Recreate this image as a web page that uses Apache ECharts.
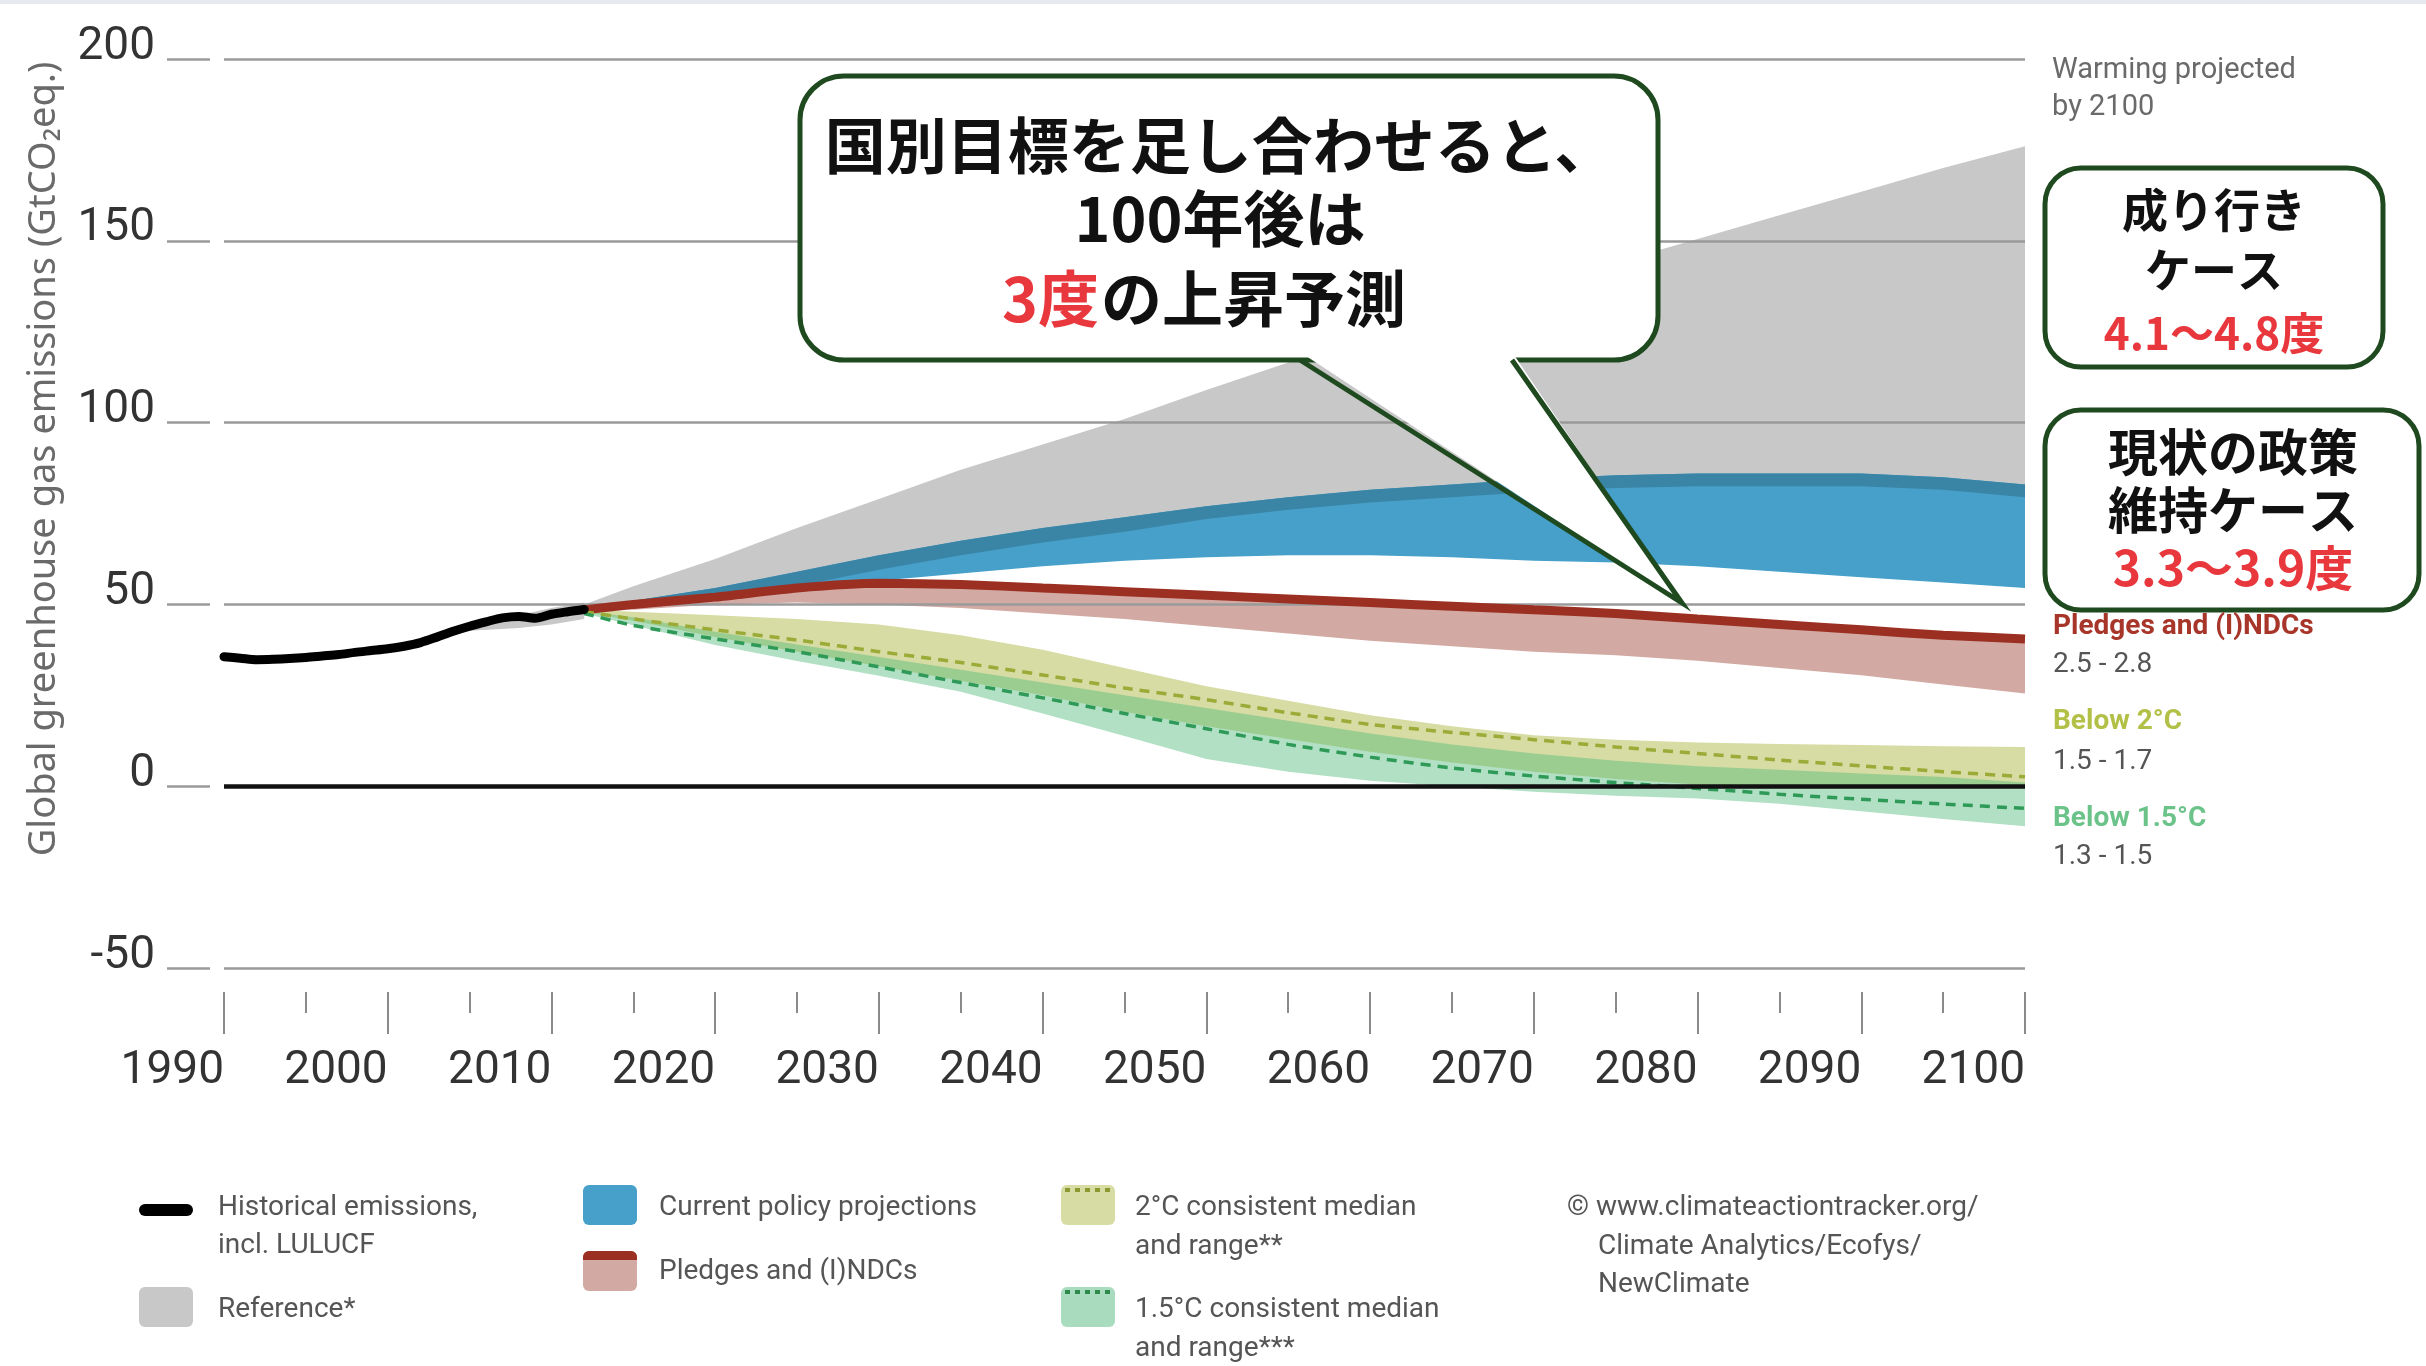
<!DOCTYPE html>
<html>
<head>
<meta charset="utf-8">
<title>Global greenhouse gas emissions</title>
<script src="https://cdn.jsdelivr.net/npm/echarts@6/dist/echarts.min.js"></script>
<style>
  html, body { margin: 0; padding: 0; background: #fff; }
  #chart { width: 2426px; height: 1366px; }
</style>
</head>
<body>
<div id="chart"></div>
<script>
// historical emissions, GtCO2eq
const histYears = [1990, 1991, 1992, 1993, 1994, 1995, 1996, 1997, 1998, 1999, 2000, 2001, 2002, 2003, 2004, 2005, 2006, 2007, 2008, 2009, 2010, 2011, 2012];
const histValues = [35.6, 35.2, 34.8, 34.9, 35.1, 35.4, 35.8, 36.2, 36.8, 37.3, 37.8, 38.5, 39.5, 41.0, 42.6, 44.0, 45.2, 46.3, 46.7, 46.2, 47.3, 48.0, 48.6];

// grey reference band close to the historical line
const refEarlyYears = [2004, 2008, 2010, 2012];
const refEarlyLow = [42.5, 43.5, 44.5, 46.0];
const refEarlyHigh = [43.0, 47.0, 49.0, 50.5];

// projections
const projYears = [2012, 2015, 2020, 2025, 2030, 2035, 2040, 2045, 2050, 2055, 2060, 2065, 2070, 2075, 2080, 2085, 2090, 2095, 2100];

const refLow = [48.5, 49.5, 51.5, 55.0, 59.5, 63.5, 67.0, 70.0, 73.5, 76.0, 78.0, 79.5, 81.0, 82.0, 82.5, 82.5, 82.5, 81.5, 79.5];
const refHigh = [50.0, 55.0, 62.5, 71.0, 79.0, 87.0, 94.0, 101.0, 109.0, 116.5, 124.0, 131.0, 138.0, 144.0, 150.5, 157.0, 163.5, 170.0, 176.0];

const policyLow = [48.5, 49.5, 51.5, 54.0, 56.5, 58.5, 60.5, 62.0, 63.0, 63.5, 63.5, 63.0, 62.0, 61.5, 60.5, 59.0, 57.5, 56.0, 54.5];
const policyHigh = [49.0, 51.0, 54.5, 59.0, 63.5, 67.5, 71.0, 74.0, 77.0, 79.5, 81.5, 83.0, 84.5, 85.5, 86.0, 86.0, 86.0, 85.0, 83.0];

const pledgeLow = [48.0, 48.5, 50.0, 50.5, 50.0, 49.0, 47.5, 46.0, 44.0, 42.0, 40.0, 38.5, 37.0, 36.0, 34.5, 32.5, 30.5, 28.0, 25.5];
const pledgeMedian = [48.5, 50.0, 52.0, 54.5, 55.8, 55.5, 54.5, 53.5, 52.5, 51.5, 50.5, 49.5, 48.5, 47.5, 46.0, 44.5, 43.0, 41.5, 40.5];

const below2Low = [48.0, 45.5, 41.0, 37.0, 33.0, 29.0, 25.0, 20.5, 16.5, 13.0, 9.5, 6.5, 4.0, 2.0, 0.5, 0.0, -0.3, -0.5, -0.5];
const below2High = [48.5, 48.0, 47.0, 46.0, 44.5, 41.5, 37.5, 32.5, 27.5, 23.5, 19.5, 16.5, 14.0, 12.8, 12.0, 11.6, 11.3, 11.0, 10.8];
const below2Median = [48.0, 46.0, 43.0, 40.2, 37.0, 34.0, 30.6, 27.0, 23.8, 20.2, 17.0, 14.8, 12.8, 10.8, 9.0, 7.2, 5.6, 4.0, 2.6];

const below15Low = [47.5, 44.3, 38.8, 34.4, 30.4, 26.0, 20.0, 13.8, 7.5, 4.0, 1.5, 0.0, -1.5, -2.6, -3.4, -4.8, -6.9, -9.0, -11.0];
const below15High = [48.2, 46.5, 42.5, 39.0, 35.5, 32.0, 28.5, 25.0, 21.5, 18.0, 14.5, 11.5, 9.0, 7.0, 5.5, 4.5, 3.5, 2.5, 1.0];
const below15Median = [47.5, 44.2, 40.5, 37.0, 32.8, 28.5, 24.3, 20.0, 15.8, 11.5, 8.0, 5.0, 2.8, 1.0, -0.6, -2.2, -3.6, -4.9, -6.1];

const yTicks = [-50, 0, 50, 100, 150, 200];

function pairs(xs, ys) {
  return xs.map((x, i) => [x, ys[i]]);
}

// filled range between low and high, drawn as one polygon through the axes
function band(name, xs, low, high, color) {
  return {
    name: name, type: 'custom', silent: true,
    data: xs.map((x, i) => [x, low[i], high[i]]),
    encode: { x: 0, y: [1, 2] },
    renderItem: function (params, api) {
      if (params.dataIndex !== 0) return null;
      const top = xs.map((x, i) => api.coord([x, high[i]]));
      const bottom = xs.map((x, i) => api.coord([x, low[i]])).reverse();
      return {
        type: 'polygon',
        shape: { points: top.concat(bottom) },
        style: { fill: color }
      };
    }
  };
}

const txtFont = 'Roboto';
const jpFont = '"Noto Sans CJK JP"';
const boxGreen = '#1f4a1f';
const jpRed = '#e8383d';

function text(x, y, str, font, fill, align) {
  return {
    type: 'text', x: x, y: y, z: 100, silent: true,
    style: { text: str, font: font, fill: fill, textAlign: align || 'left', textVerticalAlign: 'middle' }
  };
}
function rect(x, y, w, h, r, fill, stroke, lw) {
  return {
    type: 'rect', z: 100, silent: true,
    shape: { x: x, y: y, width: w, height: h, r: r },
    style: { fill: fill, stroke: stroke || null, lineWidth: lw || 0 }
  };
}

const chart = echarts.init(document.getElementById('chart'));

const series = [
  band('refEarly', refEarlyYears, refEarlyLow, refEarlyHigh, '#c8c8c8'),
  band('Reference*', projYears, refLow, refHigh, '#c8c8c8'),
  band('Current policy projections', projYears, policyLow, policyHigh, '#46a0c9'),
  band('overlap', projYears, refLow, policyHigh, '#3a84a6'),
  band('Pledges and (I)NDCs', projYears, pledgeLow, pledgeMedian, '#d2aaa3'),
  band('2°C range', projYears, below2Low, below2High, '#d6dca3'),
  band('1.5°C range', projYears, below15Low, below15High, 'rgba(84,186,124,0.45)'),
  {
    name: 'Pledges median', type: 'line', data: pairs(projYears, pledgeMedian),
    symbol: 'none', smooth: 0.2, silent: true,
    lineStyle: { color: '#9b2f22', width: 9 }
  },
  {
    name: '2°C median', type: 'line', data: pairs(projYears, below2Median),
    symbol: 'none', smooth: 0.2, silent: true,
    lineStyle: { color: '#9aab38', width: 3.5, type: [10, 7] }
  },
  {
    name: '1.5°C median', type: 'line', data: pairs(projYears, below15Median),
    symbol: 'none', smooth: 0.2, silent: true,
    lineStyle: { color: '#2f9a58', width: 3.5, type: [10, 7] }
  },
  {
    name: 'Historical emissions', type: 'line', data: pairs(histYears, histValues),
    symbol: 'none', smooth: 0.3, silent: true, z: 4,
    lineStyle: { color: '#000', width: 9, cap: 'round' },
    markLine: {
      silent: true, symbol: 'none', label: { show: false },
      lineStyle: { color: '#111', width: 4.5, type: 'solid' },
      data: [{ yAxis: 0 }]
    }
  }
];

const graphics = [
  // faint border at the top
  rect(0, 0, 2426, 4, 0, '#e6eaef'),

  // y axis title
  {
    type: 'text', x: 44, y: 459, rotation: Math.PI / 2, z: 100, silent: true,
    style: {
      text: 'Global greenhouse gas emissions (GtCO₂eq.)',
      font: '38px "Noto Sans"', fill: '#6a6a6a', textAlign: 'center', textVerticalAlign: 'middle'
    }
  },

  // speech bubble
  rect(800, 76, 858, 284, 44, '#fff', boxGreen, 5),
  {
    type: 'polygon', z: 101, silent: true,
    shape: { points: [[1300, 352], [1682, 603], [1512, 352]] },
    style: { fill: '#fff' }
  },
  {
    type: 'polyline', z: 101, silent: true,
    shape: { points: [[1300, 360], [1682, 603], [1512, 360]] },
    style: { stroke: boxGreen, lineWidth: 5, fill: null, lineJoin: 'miter' }
  },
  text(1220, 146, '国別目標を足し合わせると、', 'bold 61px ' + jpFont, '#111', 'center'),
  text(1220, 219, '100年後は', 'bold 61px ' + jpFont, '#111', 'center'),
  text(1099, 299, '3度', 'bold 61px ' + jpFont, jpRed, 'right'),
  text(1101, 299, 'の上昇予測', 'bold 61px ' + jpFont, '#111', 'left'),

  // right side notes
  text(2052, 71, 'Warming projected', '29px ' + txtFont, '#6a6a6a'),
  text(2052, 108, 'by 2100', '29px ' + txtFont, '#6a6a6a'),

  rect(2045, 168, 338, 199, 36, '#fff', boxGreen, 5),
  text(2214, 210, '成り行き', 'bold 46px ' + jpFont, '#111', 'center'),
  text(2214, 270, 'ケース', 'bold 46px ' + jpFont, '#111', 'center'),
  text(2214, 333, '4.1～4.8度', 'bold 44px ' + jpFont, jpRed, 'center'),

  rect(2045, 410, 374, 200, 36, '#fff', boxGreen, 5),
  text(2233, 452, '現状の政策', 'bold 50px ' + jpFont, '#111', 'center'),
  text(2233, 510, '維持ケース', 'bold 50px ' + jpFont, '#111', 'center'),
  text(2233, 568, '3.3～3.9度', 'bold 48px ' + jpFont, jpRed, 'center'),

  text(2053, 627, 'Pledges and (I)NDCs', 'bold 28px ' + txtFont, '#a8352a'),
  text(2053, 665, '2.5 - 2.8', '28px ' + txtFont, '#555'),
  text(2053, 722, 'Below 2°C', 'bold 28px ' + txtFont, '#b3c048'),
  text(2053, 762, '1.5 - 1.7', '28px ' + txtFont, '#555'),
  text(2053, 819, 'Below 1.5°C', 'bold 28px ' + txtFont, '#6cc38a'),
  text(2053, 857, '1.3 - 1.5', '28px ' + txtFont, '#555'),

  // legend
  rect(139, 1204, 54, 12, 6, '#000'),
  text(218, 1208, 'Historical emissions,', '28px ' + txtFont, '#555'),
  text(218, 1246, 'incl. LULUCF', '28px ' + txtFont, '#555'),
  rect(139, 1287, 54, 40, 6, '#c8c8c8'),
  text(218, 1310, 'Reference*', '28px ' + txtFont, '#555'),

  rect(583, 1185, 54, 40, 6, '#46a0c9'),
  text(659, 1208, 'Current policy projections', '28px ' + txtFont, '#555'),
  rect(583, 1251, 54, 40, 6, '#d2aaa3'),
  rect(583, 1251, 54, 9, [6, 6, 0, 0], '#9b2f22'),
  text(659, 1272, 'Pledges and (I)NDCs', '28px ' + txtFont, '#555'),

  rect(1061, 1185, 54, 40, 6, '#d6dca3'),
  {
    type: 'line', z: 101, silent: true,
    shape: { x1: 1065, y1: 1190, x2: 1111, y2: 1190 },
    style: { stroke: '#8a9a30', lineWidth: 4, lineDash: [5, 5] }
  },
  text(1135, 1208, '2°C consistent median', '28px ' + txtFont, '#555'),
  text(1135, 1247, 'and range**', '28px ' + txtFont, '#555'),
  rect(1061, 1287, 54, 40, 6, '#a9dcbf'),
  {
    type: 'line', z: 101, silent: true,
    shape: { x1: 1065, y1: 1292, x2: 1111, y2: 1292 },
    style: { stroke: '#2e8a4a', lineWidth: 4, lineDash: [5, 5] }
  },
  text(1135, 1310, '1.5°C consistent median', '28px ' + txtFont, '#555'),
  text(1135, 1349, 'and range***', '28px ' + txtFont, '#555'),

  text(1567, 1208, '© www.climateactiontracker.org/', '28px ' + txtFont, '#555'),
  text(1598, 1247, 'Climate Analytics/Ecofys/', '28px ' + txtFont, '#555'),
  text(1598, 1285, 'NewClimate', '28px ' + txtFont, '#555')
];

const option = {
  animation: false,
  backgroundColor: '#fff',
  grid: { left: 224, right: 401, top: 59, bottom: 398 },
  xAxis: {
    type: 'value', min: 1990, max: 2100, interval: 10,
    offset: 24,
    axisLine: { show: false, onZero: false },
    axisTick: { show: true, length: 42, lineStyle: { color: '#8a8a8a', width: 2 } },
    minorTick: { show: true, splitNumber: 2, length: 21, lineStyle: { color: '#8a8a8a', width: 2 } },
    splitLine: { show: false },
    axisLabel: {
      margin: 56, fontSize: 46, fontFamily: txtFont, color: '#333', align: 'right',
      formatter: v => String(v)
    }
  },
  yAxis: {
    type: 'value', min: yTicks[0], max: yTicks[yTicks.length - 1], interval: 50,
    offset: 14, z: 3,
    axisLine: { show: false },
    axisTick: { show: true, length: 43, lineStyle: { color: '#9a9a9a', width: 2.5 } },
    splitLine: {
      show: true,
      lineStyle: { color: yTicks.map(v => (v === 0 ? '#111' : '#9a9a9a')), width: 2.5 }
    },
    axisLabel: {
      margin: 55, fontSize: 46, fontFamily: txtFont, color: '#333',
      verticalAlign: 'bottom', lineHeight: 24
    }
  },
  series: series,
  graphic: graphics
};

chart.setOption(option);
</script>
</body>
</html>
